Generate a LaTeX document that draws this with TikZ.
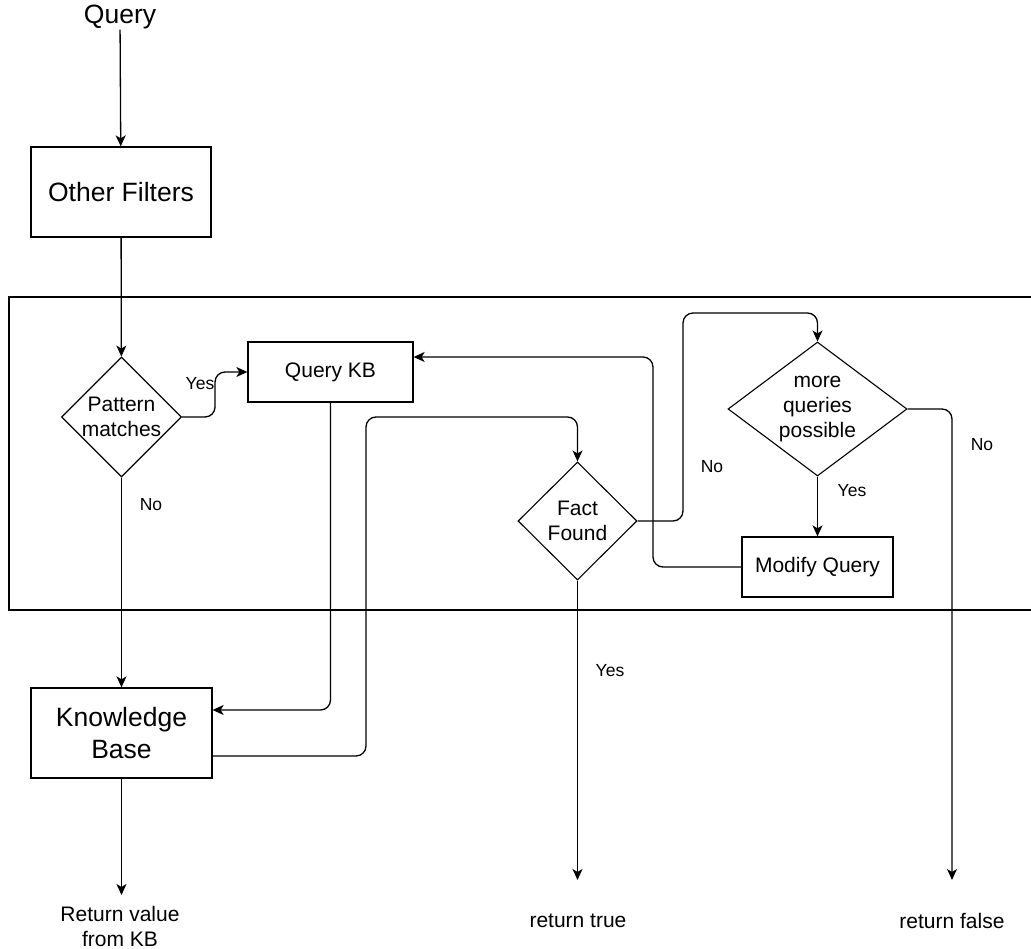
\documentclass[tikz,border=0pt]{standalone}
\usepackage{fontspec}
\setmainfont{Liberation Sans}
\usetikzlibrary{shapes.geometric,arrows.meta,calc}

\begin{document}
\begin{tikzpicture}[x=1pt,y=-1pt,
  line width=1.3pt,
  big/.style={font=\fontsize{26.5}{32}\selectfont},
  mid/.style={font=\fontsize{21}{25}\selectfont},
  small/.style={font=\fontsize{17.5}{21}\selectfont},
  box/.style={draw, rectangle, inner sep=0pt, align=center},
  dia/.style={draw, diamond, inner sep=0pt, line width=1.1pt},
  dtext/.style={mid, align=center, inner sep=0pt},
  conn/.style={-{Stealth[length=11pt,width=10pt,inset=3pt]}, rounded corners=10pt},
  plain/.style={rounded corners=10pt}
]
\useasboundingbox (0,0) rectangle (1031,949);

% enclosing frame, open on the right
\draw (1031,297) -- (9,297) -- (9,610) -- (1031,610);

% nodes
\node[big, inner sep=0pt] (q) at (120,17) {Query};
\node[box, big, minimum width=180pt, minimum height=90pt] (of) at (121,192) {Other Filters};
\node[dia, minimum width=120pt, minimum height=120pt,
      label={[dtext]center:{Pattern\\matches}}] (pm) at (121.5,417) {};
\node[box, mid, minimum width=165pt, minimum height=60pt] (qkb) at (330.5,372) {Query KB};
\node[box, big, minimum width=181pt, minimum height=90pt] (kb) at (121.5,733) {Knowledge\\Base};
\node[dia, minimum width=119pt, minimum height=118pt,
      label={[dtext]center:{Fact\\Found}}] (ff) at (577.5,521) {};
\node[dia, minimum width=179pt, minimum height=134pt,
      label={[dtext]center:{more\\queries\\possible}}] (mq) at (817.5,409) {};
\node[box, mid, minimum width=151pt, minimum height=60pt] (mod) at (817.5,567) {Modify Query};

\node[mid, align=center, inner sep=0pt] (rv) at (120,926) {Return value\\from KB};
\node[mid, inner sep=0pt] (rt) at (578,921) {return true};
\node[mid, inner sep=0pt] (rf) at (952,921) {return false};

% arrow ends and bends
\coordinate (t0) at (121.5,895);
\coordinate (t1) at (577.5,880);
\coordinate (t2) at (952,880);
\coordinate (k1) at (366,417);
\coordinate (k2) at (683,313);
\coordinate (k3) at (653,357);

% connectors
\draw[conn] (q) -- (of);
\draw[conn] (of) -- (pm);
\draw[conn] (pm.east) -- ++(33,0) |- (qkb.west);
\draw[conn] (pm) -- (kb);
\draw[conn] (qkb.south) |- ([yshift=23pt]kb.east);
\draw[conn] ([yshift=-23pt]kb.east) -| (k1) -| (ff.north);
\draw[conn] (ff.east) -| (k2) -| (mq.north);
\draw[conn] (mq) -- (mod);
\draw[conn] (mod.west) -| (k3) -- ([yshift=15pt]qkb.east);
\draw[conn] (mq.east) -| (t2);
\draw[conn] (ff.south) -- (t1);
\draw[conn] (kb.south) -- (t0);

% branch labels
\node[small] at (200,384) {Yes};
\node[small] at (151,505) {No};
\node[small] at (712,467) {No};
\node[small] at (852,491) {Yes};
\node[small] at (982,445) {No};
\node[small] at (610,671) {Yes};
\end{tikzpicture}
\end{document}
